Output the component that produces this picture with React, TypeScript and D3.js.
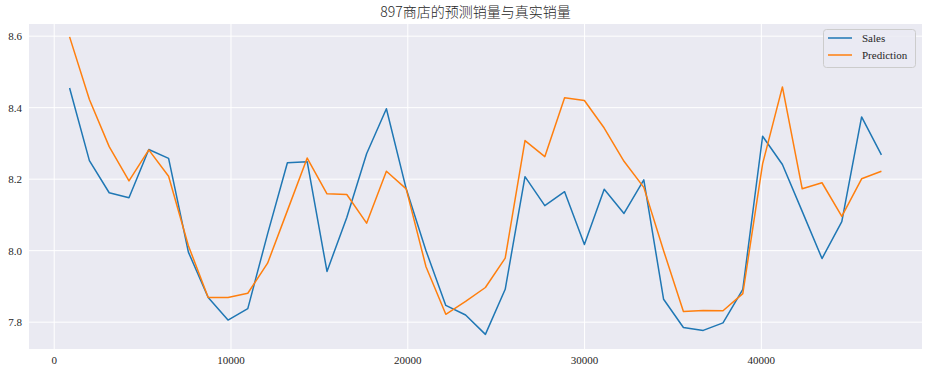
import * as d3 from 'd3';

const xValues = [870, 1990, 3110, 4230, 5350, 6470, 7590, 8710, 9830, 10950, 12070, 13190, 14310, 15430, 16550, 17670, 18790, 19910, 21030, 22150, 23270, 24390, 25510, 26630, 27750, 28870, 29990, 31110, 32230, 33350, 34470, 35590, 36710, 37830, 38950, 40070, 41190, 42310, 43430, 44550, 45670, 46790];

const sales = [8.455, 8.252, 8.162, 8.148, 8.283, 8.258, 7.996, 7.869, 7.806, 7.838, 8.047, 8.246, 8.249, 7.942, 8.093, 8.271, 8.397, 8.173, 8.0, 7.847, 7.820, 7.766, 7.892, 8.207, 8.126, 8.165, 8.017, 8.172, 8.104, 8.198, 7.864, 7.785, 7.777, 7.798, 7.892, 8.320, 8.241, 8.110, 7.978, 8.081, 8.374, 8.268];

const prediction = [8.598, 8.423, 8.291, 8.195, 8.282, 8.208, 8.014, 7.869, 7.869, 7.881, 7.965, 8.112, 8.259, 8.159, 8.157, 8.077, 8.222, 8.173, 7.955, 7.822, 7.858, 7.897, 7.979, 8.308, 8.263, 8.428, 8.420, 8.343, 8.250, 8.177, 8.0, 7.830, 7.833, 7.832, 7.880, 8.243, 8.458, 8.173, 8.190, 8.096, 8.201, 8.222];

const xTicks = [0, 10000, 20000, 30000, 40000];
const yTicks = [7.8, 8.0, 8.2, 8.4, 8.6];

const series = [
  { name: 'Sales', values: sales, color: '#1f77b4' },
  { name: 'Prediction', values: prediction, color: '#ff7f0e' },
];

const W = 928, H = 374;
const left = 29, right = 922, top = 24, bottom = 349;
const font = '"Times New Roman", "Liberation Serif", serif';

export default function App() {
  const x = d3.scaleLinear().domain([-1426, 49086]).range([left, right]);
  const y = d3.scaleLinear().domain([7.725, 8.634]).range([bottom, top]);

  const line = (vals: number[]) =>
    d3.line<number>()
      .x((_, i) => x(xValues[i]))
      .y(d => y(d))(vals) || '';

  return (
    <svg width={W} height={H} style={{ position: 'absolute', left: 0, top: 0 }}>
      <rect x={0} y={0} width={W} height={H} fill="#fff" />
      <text x={(left + right) / 2} y={17} textAnchor="middle" fontSize={14}
        fontFamily={'"Noto Sans CJK SC", sans-serif'} fontWeight={300} fill="#262626">
        897商店的预测销量与真实销量
      </text>
      <rect x={left} y={top} width={right - left} height={bottom - top} fill="#eaeaf2" />
      {xTicks.map(t => (
        <g key={'x' + t}>
          <line x1={x(t)} x2={x(t)} y1={top} y2={bottom} stroke="#fff" strokeWidth={1} />
          <text x={x(t)} y={364} textAnchor="middle" fontSize={11} fontFamily={font} fill="#262626">{t}</text>
        </g>
      ))}
      {yTicks.map(t => (
        <g key={'y' + t}>
          <line x1={left} x2={right} y1={y(t)} y2={y(t)} stroke="#fff" strokeWidth={1} />
          <text x={22} y={y(t) + 4} textAnchor="end" fontSize={11} fontFamily={font} fill="#262626">{t.toFixed(1)}</text>
        </g>
      ))}
      <g clipPath="url(#clip)">
        <clipPath id="clip">
          <rect x={left} y={top} width={right - left} height={bottom - top} />
        </clipPath>
        {series.map(s => (
          <path key={s.name} d={line(s.values)} fill="none" stroke={s.color} strokeWidth={1.5} strokeLinejoin="round" />
        ))}
      </g>
      <g>
        <rect x={823.5} y={29.5} width={92} height={38} rx={3} fill="#eaeaf2" fillOpacity={0.8} stroke="#cccccc" />
        {series.map((s, i) => (
          <g key={'leg' + s.name}>
            <line x1={828} x2={852} y1={38 + i * 17} y2={38 + i * 17} stroke={s.color} strokeWidth={1.5} />
            <text x={862} y={42 + i * 17} fontSize={11} fontFamily={font} fill="#262626">{s.name}</text>
          </g>
        ))}
      </g>
    </svg>
  );
}
